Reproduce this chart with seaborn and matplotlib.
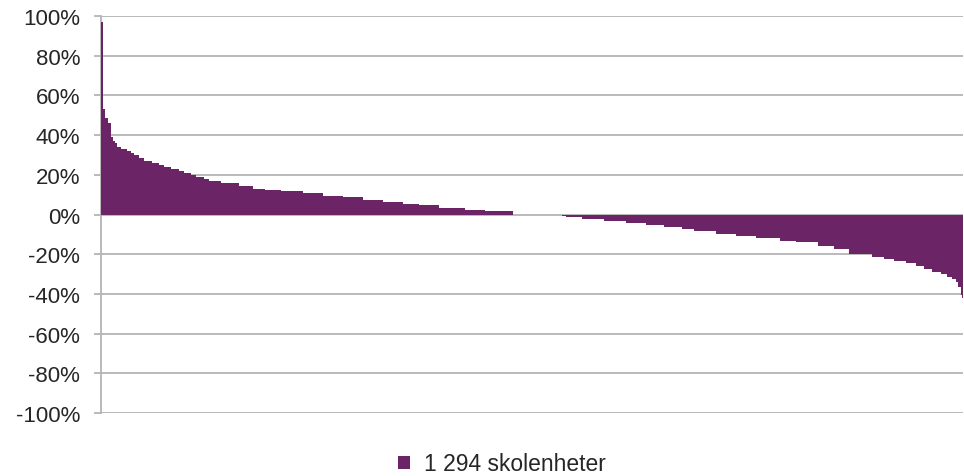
import numpy as np
import pandas as pd
import seaborn as sns
import matplotlib.pyplot as plt
from matplotlib.patches import Patch

# values: share (%) and number of school units at that level
step_pct = [97, 62, 53, 48.5, 46, 39, 37, 36, 34, 33, 32, 31, 30, 28.5, 27, 26, 25, 24, 23, 22,
            21, 20, 19, 18, 17, 16, 14.5, 13, 12.4, 11.7, 10.7, 9.5, 8.7, 7.5, 6.5, 5.4, 4.6,
            3.4, 2.4, 1.6, 0,
            -0.6, -1.2, -2.3, -3.2, -4.3, -5.2, -6.2, -7.3, -8.2, -9.8, -10.7, -12, -13.2, -14,
            -15.7, -17.4, -19.7, -21.3, -22.5, -23.3, -24.6, -25.8, -27.5, -28.8, -30, -31.3,
            -32.5, -34, -36.5, -40.5, -42]
step_n = [2, 1, 3, 4, 5, 3, 3, 3, 5, 10, 5, 5, 7, 8, 12, 10, 8, 10, 12, 8,
          10, 8, 12, 8, 18, 27, 20, 18, 25, 32, 30, 30, 30, 30, 30, 25, 30,
          38, 30, 42, 75,
          6, 24, 33, 33, 30, 27, 27, 18, 33, 30, 30, 35, 25, 32,
          25, 22, 35, 18, 15, 18, 15, 12, 12, 13, 9, 8,
          6, 3, 4, 2, 1]
legend_label = "1 294 skolenheter"
yticks = [-100, -80, -60, -40, -20, 0, 20, 40, 60, 80, 100]

vals = np.repeat(step_pct, step_n) / 100.0
df = pd.DataFrame({"unit": np.arange(len(vals)), "change": vals})

purple = "#6b2466"
grey = "#b4b4b4"

sns.set_style("white")
plt.rcParams["font.family"] = ["Liberation Sans", "DejaVu Sans"]

fig = plt.figure(figsize=(9.64, 4.77), dpi=100)
ax = fig.add_axes([101 / 964, 1 - 414 / 477, 862 / 964, 397 / 477])

sns.barplot(data=df, x="unit", y="change", native_scale=True, width=1.0,
            color=purple, saturation=1, linewidth=0, ax=ax, zorder=3)

ax.set_xlim(-1.0, len(vals) - 0.5)
ax.set_ylim(-1.0, 1.0)
ax.set_yticks([t / 100 for t in yticks])
ax.set_yticklabels([f"{t}%" for t in yticks], fontsize=16)
ax.set_xticks([])
ax.set_xlabel("")
ax.set_ylabel("")
ax.yaxis.grid(True, color=grey, linewidth=1.3)
ax.set_axisbelow(True)
for s in ["top", "right", "bottom"]:
    ax.spines[s].set_visible(False)
ax.spines["left"].set_color(grey)
ax.spines["left"].set_linewidth(1.3)
ax.spines["left"].set_zorder(1)
ax.tick_params(axis="y", length=5, width=1.3, color=grey, pad=10, left=True)

handle = Patch(facecolor=purple, edgecolor="none", label=legend_label)
fig.legend(handles=[handle], loc="center", bbox_to_anchor=(502 / 964, 1 - 465 / 477),
           frameon=False, fontsize=16.5, handlelength=0.5, handleheight=0.5,
           handletextpad=0.6)

fig.savefig("out.png", dpi=100)
